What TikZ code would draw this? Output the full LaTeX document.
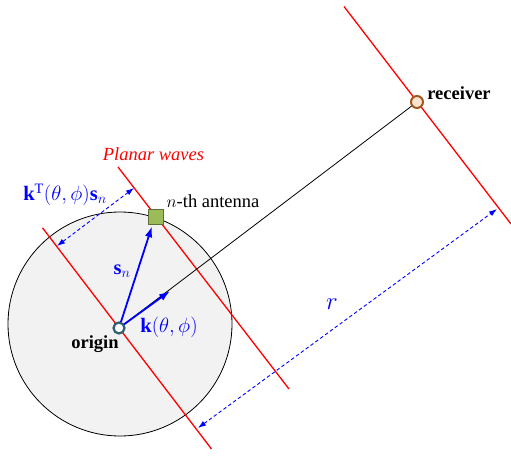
\documentclass[tikz,border=0pt]{standalone}
\usepackage{fontspec}
\setmainfont{Liberation Serif}
\usetikzlibrary{arrows.meta,calc}
\definecolor{wave}{RGB}{255,0,0}
\definecolor{vec}{RGB}{0,0,255}
\definecolor{orgring}{RGB}{45,95,110}
\definecolor{rxring}{RGB}{160,89,30}
\definecolor{rxfill}{RGB}{251,227,210}
\definecolor{antfill}{RGB}{155,187,89}
\definecolor{antdraw}{RGB}{91,112,49}
\definecolor{disc}{RGB}{242,242,242}
\tikzset{
  waveline/.style={draw=wave, line width=1.3pt},
  vecarrow/.style={draw=vec, line width=1.8pt, -{Latex[length=11pt,width=7.5pt]}},
  dimarrow/.style={draw=vec, line width=0.9pt, dash pattern=on 3.5pt off 2.5pt, {Latex[length=8pt,width=5.5pt]}-{Latex[length=8pt,width=5.5pt]}},
  lbl/.style={font=\fontsize{18.5}{20}\selectfont, inner sep=0pt},
  bluelbl/.style={inner sep=0pt, text=vec, font=\fontsize{20.5}{22}\selectfont},
}
\begin{document}
\begin{tikzpicture}[x=1pt,y=-1pt]
\useasboundingbox (0,0) rectangle (511,455);
% disc
\fill[disc] (120,324) circle (112);
\draw[black, line width=0.8pt] (120,324) circle (112);
% key points
\coordinate (O) at (119,328);
\coordinate (R) at (417,102);
% planar waves
\coordinate (W1a) at (42.5,227.8);
\coordinate (W1b) at (211.5,449);
\coordinate (W2a) at (118,167);
\coordinate (W2b) at (289,389);
\coordinate (W3a) at (344,6.5);
\coordinate (W3b) at (511,224);
\draw[waveline] (W1a) -- (W1b);
\draw[waveline] (W2a) -- (W2b);
\draw[waveline] (W3a) -- (W3b);
% propagation line
\draw[black, line width=0.8pt] (O) -- (R);
% antenna
\node[draw=antdraw, fill=antfill, line width=1.5pt, minimum size=15pt, inner sep=0pt] (A) at (156,217) {};
% vectors
\coordinate (Ktip) at (170,291);
\draw[vecarrow] (O) -- ($(A.south)+(-4,1)$);
\draw[vecarrow] (O) -- (Ktip);
% dimension arrows
\coordinate (D1) at (57,246);
\coordinate (D2) at (134,188);
\draw[dimarrow] (D1) -- (D2);
\coordinate (D3) at (198,428);
\coordinate (D4) at (497,209);
\draw[dimarrow] (D3) -- (D4);
% markers
\node[circle, draw=orgring, fill=white, line width=2.2pt, minimum size=11pt, inner sep=0pt] (Om) at (O) {};
\node[circle, draw=rxring, fill=rxfill, line width=2pt, minimum size=12pt, inner sep=0pt] (Rm) at (R) {};
% labels
\node[lbl, font=\fontsize{18.5}{20}\selectfont\bfseries] (rxlbl) at (459,93) {receiver};
\node[lbl] (antlbl) at (213,201) {$n$-th antenna};
\node[lbl, text=wave, font=\fontsize{18.5}{20}\selectfont\itshape] (pwlbl) at (153.5,154) {Planar waves};
\node[bluelbl] (ktslbl) at (65,195) {$\mathbf{k}^{\mathrm{T}}(\theta,\phi)\mathbf{s}_n$};
\node[bluelbl] (snlbl) at (122,271) {$\mathbf{s}_n$};
\node[lbl, font=\fontsize{18.5}{20}\selectfont\bfseries] (orglbl) at (95,344) {origin};
\node[bluelbl] (klbl) at (169,327) {$\mathbf{k}(\theta,\phi)$};
\node[bluelbl, font=\fontsize{32}{34}\selectfont] (rlbl) at (332,304) {$r$};
\end{tikzpicture}
\end{document}
